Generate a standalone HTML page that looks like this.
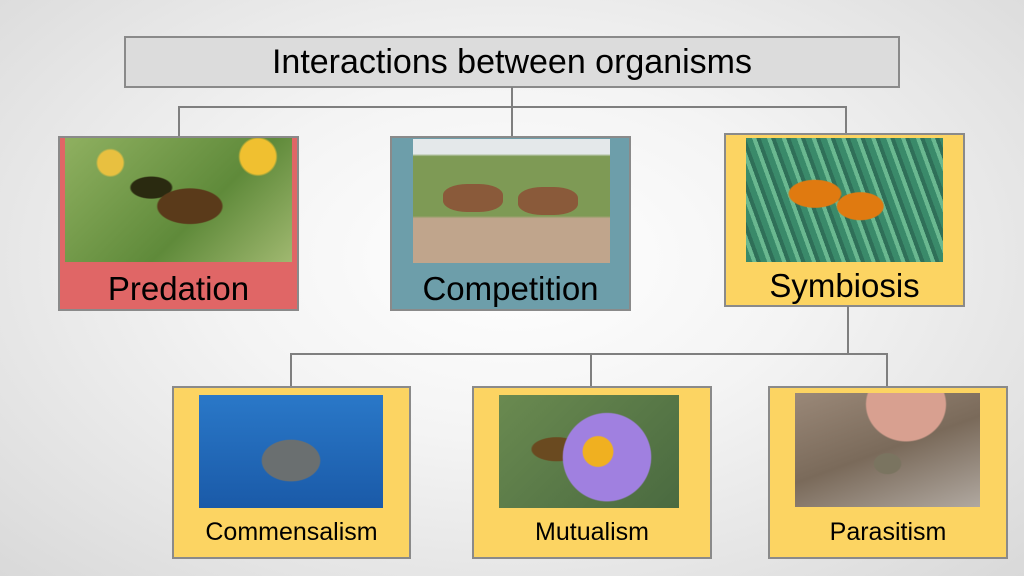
<!DOCTYPE html>
<html><head><style>
html,body{margin:0;padding:0}
body{width:1024px;height:576px;position:relative;overflow:hidden;font-family:"Liberation Sans",sans-serif;
background:radial-gradient(ellipse at 50% 45%,#ffffff 0%,#f4f4f4 40%,#d9d9d9 100%);}
.b{position:absolute;box-sizing:border-box;border:2px solid #8a8a8a;}
.l{position:absolute;background:#7f7f7f}
.img{position:absolute;overflow:hidden}
.t{position:absolute;left:0;right:0;text-align:center;color:#000}
</style></head><body>
<div class="b" style="left:124px;top:36px;width:776px;height:52px;background:#dcdcdc"></div>
<div class="t" style="left:124px;width:776px;top:43px;font-size:34px">Interactions between organisms</div>
<div class="l" style="left:511px;top:87px;width:2px;height:50px"></div>
<div class="l" style="left:178px;top:106px;width:669px;height:2px"></div>
<div class="l" style="left:178px;top:106px;width:2px;height:31px"></div>
<div class="l" style="left:845px;top:106px;width:2px;height:28px"></div>

<div class="b" style="left:58px;top:136px;width:241px;height:175px;background:#e06666"></div>
<div class="img" style="left:65px;top:138px;width:227px;height:124px;background:radial-gradient(circle at 20% 20%,#e8c040 0 6%,transparent 7%),radial-gradient(circle at 85% 15%,#f0c030 0 8%,transparent 9%),radial-gradient(ellipse at 55% 55%,#5a3a1a 0 18%,transparent 19%),radial-gradient(ellipse at 38% 40%,#2a2a10 0 10%,transparent 11%),linear-gradient(135deg,#8fb060,#5f8a3a 60%,#a0b870)"></div>
<div class="t" style="left:58px;width:241px;top:270px;font-size:33px">Predation</div>

<div class="b" style="left:390px;top:136px;width:241px;height:175px;background:#6d9eaa"></div>
<div class="img" style="left:413px;top:139px;width:197px;height:124px;background:linear-gradient(180deg,#e4e8ea 0 12%,#7e9a55 14% 62%,#c0a58c 64% 100%)"><div style="position:absolute;left:30px;top:45px;width:60px;height:28px;background:#8a5a3a;border-radius:40%"></div><div style="position:absolute;left:105px;top:48px;width:60px;height:28px;background:#8a5a3a;border-radius:40%"></div></div>
<div class="t" style="left:390px;width:241px;top:270px;font-size:33px">Competition</div>

<div class="b" style="left:724px;top:133px;width:241px;height:174px;background:#fcd462"></div>
<div class="img" style="left:746px;top:138px;width:197px;height:124px;background:radial-gradient(ellipse at 35% 45%,#e07a10 0 14%,transparent 15%),radial-gradient(ellipse at 58% 55%,#e07a10 0 14%,transparent 15%),repeating-linear-gradient(70deg,#3a8a6a 0 6px,#6ab890 6px 10px,#2f6f58 10px 14px)"></div>
<div class="t" style="left:724px;width:241px;top:267px;font-size:33px">Symbiosis</div>

<div class="l" style="left:847px;top:306px;width:2px;height:49px"></div>
<div class="l" style="left:290px;top:353px;width:598px;height:2px"></div>
<div class="l" style="left:290px;top:353px;width:2px;height:33px"></div>
<div class="l" style="left:590px;top:353px;width:2px;height:33px"></div>
<div class="l" style="left:886px;top:353px;width:2px;height:33px"></div>

<div class="b" style="left:172px;top:386px;width:239px;height:173px;background:#fcd462"></div>
<div class="img" style="left:199px;top:395px;width:184px;height:113px;background:radial-gradient(ellipse at 50% 58%,#6a6f70 0 22%,transparent 23%),linear-gradient(180deg,#2a78c8,#1a5aa8)"></div>
<div class="t" style="left:172px;width:239px;top:518px;font-size:25px">Commensalism</div>

<div class="b" style="left:472px;top:386px;width:240px;height:173px;background:#fcd462"></div>
<div class="img" style="left:499px;top:395px;width:180px;height:113px;background:radial-gradient(circle at 55% 50%,#f0b020 0 13%,transparent 14%),radial-gradient(circle at 60% 55%,#a080e0 0 35%,transparent 36%),radial-gradient(ellipse at 32% 48%,#6a4a20 0 14%,transparent 15%),linear-gradient(135deg,#6a8a50,#4a6a40)"></div>
<div class="t" style="left:472px;width:240px;top:518px;font-size:25px">Mutualism</div>

<div class="b" style="left:768px;top:386px;width:240px;height:173px;background:#fcd462"></div>
<div class="img" style="left:795px;top:393px;width:185px;height:114px;background:radial-gradient(ellipse at 50% 62%,#7a7460 0 10%,transparent 11%),radial-gradient(ellipse at 60% 10%,#d8a090 0 25%,transparent 26%),linear-gradient(160deg,#9a8878,#7a6a5a 50%,#b0a8a0)"></div>
<div class="t" style="left:768px;width:240px;top:518px;font-size:25px">Parasitism</div>
</body></html>
